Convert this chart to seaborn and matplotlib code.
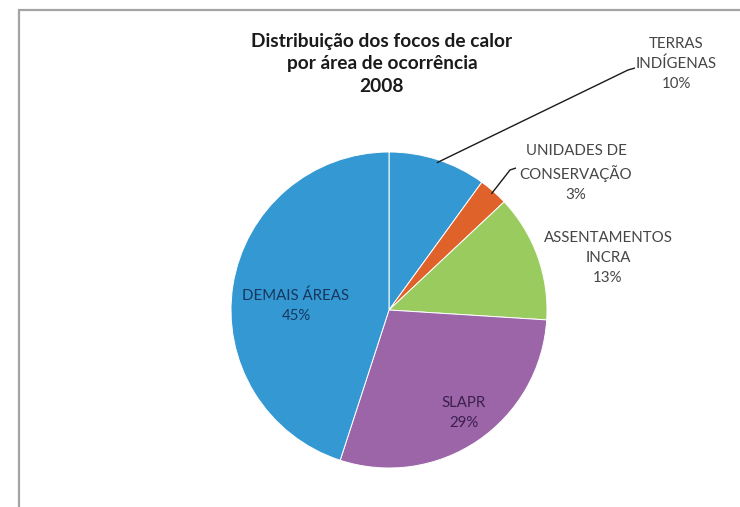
import matplotlib
matplotlib.use("Agg")
import matplotlib.pyplot as plt
import seaborn as sns
import numpy as np
from matplotlib.patches import Rectangle

# Fire hotspots by area of occurrence, 2008 (percent of total)
categories = ["TERRAS\nINDÍGENAS", "UNIDADES DE\nCONSERVAÇÃO", "ASSENTAMENTOS\nINCRA",
              "SLAPR", "DEMAIS ÁREAS"]
shares = [10, 3, 13, 29, 45]
colors = ["#3498d3", "#e0622b", "#9acb5e", "#9b65a8", "#3498d3"]
title_lines = ["Distribuição dos focos de calor", "por área de ocorrência", "2008"]

sns.set_theme(style="white")
plt.rcParams["font.family"] = ["Lato", "DejaVu Sans"]

W, H = 740, 507
fig = plt.figure(figsize=(W / 100, H / 100), dpi=100)
fig.patch.set_facecolor("white")

# chart frame (left and top edges visible)
fig.patches.append(Rectangle((19 / W, -0.05), 1.1, (H - 10) / H + 0.05,
                             transform=fig.transFigure, fill=False,
                             edgecolor="#a4a4a4", linewidth=1.6, zorder=0))

cx, cy, r = 389, 310, 158
ax = fig.add_axes([(cx - r) / W, (H - cy - r) / H, 2 * r / W, 2 * r / H])
wedges, _ = ax.pie(shares, colors=colors, startangle=90, counterclock=False,
                   radius=1.0, wedgeprops=dict(edgecolor="white", linewidth=0.7))
ax.set_xlim(-1, 1)
ax.set_ylim(-1, 1)
ax.set_aspect("equal")
ax.axis("off")

def px(x, y):
    return ((x - cx) / r, (cy - y) / r)

# label placement (pixel positions of label centres) and colours
label_pos = [px(676, 64), px(576, 173), px(608, 258), px(464, 413), px(296, 306)]
label_col = ["#454545", "#454545", "#454545", "#3c1f4c", "#17375e"]

for name, val, pos, col in zip(categories, shares, label_pos, label_col):
    ax.text(pos[0], pos[1], f"{name}\n{val}%", ha="center", va="center",
            fontsize=10.8, color=col, linespacing=1.55, clip_on=False)

# leader lines for the two small outer slices
angles = 90 - 360 * (np.cumsum(shares) - np.array(shares) / 2) / 100
leader_ends = [(px(628, 70), px(635, 68)), (px(510, 170), px(516, 168))]
for i, (mid, end) in enumerate(leader_ends):
    a = np.deg2rad(angles[i])
    x0, y0 = 0.98 * np.cos(a), 0.98 * np.sin(a)
    ax.plot([x0, mid[0], end[0]], [y0, mid[1], end[1]], color="#1a1a1a",
            linewidth=1.0, clip_on=False, solid_capstyle="butt")

fig.text(382 / W, 1 - 64 / H, "\n".join(title_lines), ha="center", va="center",
         fontsize=13.8, fontweight="bold", color="#1a1a1a", linespacing=1.38)

fig.savefig("out.png", dpi=100, facecolor="white")
